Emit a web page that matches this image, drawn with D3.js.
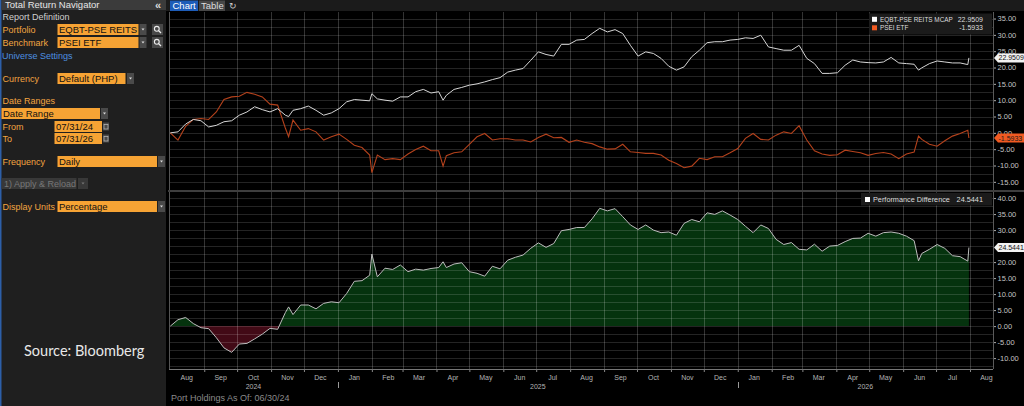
<!DOCTYPE html>
<html>
<head>
<meta charset="utf-8">
<script src="https://cdn.jsdelivr.net/npm/d3@7"></script>
<style>
  body { margin: 0; background: #000; }
  svg { display: block; font-family: "Liberation Sans", Arial, sans-serif; }
</style>
</head>
<body>
<div id="chart"></div>
<script>
// weekly closes (plus a few single-day spikes), Aug 2024 - Jul 2026
const dates = [
  "2024-08-01","2024-08-08","2024-08-15","2024-08-22","2024-08-29","2024-09-05","2024-09-12","2024-09-19","2024-09-26",
  "2024-10-03","2024-10-10","2024-10-17","2024-10-24","2024-10-31","2024-11-07","2024-11-14","2024-11-17","2024-11-21",
  "2024-11-28","2024-12-05","2024-12-12","2024-12-19","2024-12-26","2025-01-02","2025-01-09","2025-01-16","2025-01-23",
  "2025-01-30","2025-02-01","2025-02-06","2025-02-13","2025-02-20","2025-02-27","2025-03-06","2025-03-13","2025-03-20",
  "2025-03-27","2025-04-03","2025-04-07","2025-04-10","2025-04-17","2025-04-24","2025-05-01","2025-05-08","2025-05-15",
  "2025-05-22","2025-05-29","2025-06-05","2025-06-12","2025-06-19","2025-06-26","2025-07-03","2025-07-10","2025-07-17",
  "2025-07-24","2025-07-31","2025-08-07","2025-08-14","2025-08-21","2025-08-28","2025-09-04","2025-09-11","2025-09-18",
  "2025-09-25","2025-10-02","2025-10-09","2025-10-16","2025-10-23","2025-10-30","2025-11-06","2025-11-13","2025-11-20",
  "2025-11-27","2025-12-04","2025-12-11","2025-12-18","2025-12-25","2026-01-01","2026-01-08","2026-01-15","2026-01-22",
  "2026-01-29","2026-02-05","2026-02-12","2026-02-19","2026-02-26","2026-03-05","2026-03-12","2026-03-19","2026-03-26",
  "2026-04-02","2026-04-09","2026-04-16","2026-04-23","2026-04-30","2026-05-07","2026-05-14","2026-05-21","2026-05-28",
  "2026-06-04","2026-06-11","2026-06-15","2026-06-18","2026-06-25","2026-07-02","2026-07-09","2026-07-16","2026-07-23",
  "2026-07-30","2026-07-31"
];

// EQBT-PSE REITS MCAP, total return %
const portfolio = [
  0, 0.3, 2.7, 4.1, 3.7, 1.8, 2.3, 3.4, 3.7,
  5.4, 6.4, 8.0, 7.1, 6.4, 7.4, 5.4, 5.0, 6.9,
  7.4, 8.2, 6.9, 5.4, 6.1, 7.4, 9.5, 10.2, 10.0,
  9.8, 12.0, 10.4, 10.0, 9.7, 11.0, 11.0, 12.6, 13.3,
  12.2, 12.6, 10.0, 11.5, 13.3, 13.9, 14.6, 15.0, 15.6,
  16.3, 16.9, 18.6, 19.2, 19.7, 22.2, 24.8, 24.0, 23.5,
  27.1, 27.1, 28.4, 28.6, 30.4, 32.0, 30.9, 31.6, 30.4,
  26.8, 23.5, 24.8, 24.3, 22.8, 20.4, 19.2, 20.2, 23.3,
  25.3, 27.6, 27.9, 27.9, 28.4, 28.6, 29.1, 28.9, 29.9,
  26.3, 25.8, 25.3, 25.3, 26.8, 22.8, 21.2, 18.2, 18.2,
  18.4, 20.7, 22.3, 21.7, 21.5, 21.4, 21.7, 23.1, 21.4,
  21.2, 21.0, 19.2, 19.9, 21.2, 22.0, 21.7, 21.4, 21.4,
  20.9, 22.9509
];

// PSEI ETF, total return %
const benchmark = [
  0, -2.2, 2.0, 4.1, 4.4, 4.1, 6.4, 10.2, 11.0,
  11.2, 12.4, 11.8, 11.0, 8.8, 8.5, 1.5, -1.2, 3.9,
  0.8, 1.3, 0.3, -2.2, -1.2, -0.4, -2.0, -3.8, -4.5,
  -6.8, -12.2, -6.8, -8.2, -7.9, -8.2, -6.5, -5.1, -4.1,
  -5.5, -5.5, -10.2, -7.0, -6.1, -5.8, -3.5, -1.2, -0.2,
  -2.2, -1.8, -1.8, -2.2, -2.2, -2.8, -1.4, -0.4, -1.5,
  -1.4, -2.9, -2.2, -2.9, -3.3, -4.3, -5.0, -4.9, -3.5,
  -5.8, -6.0, -6.3, -6.3, -6.8, -8.4, -9.4, -10.7, -10.2,
  -7.8, -8.2, -7.3, -7.3, -6.1, -4.8, -1.7, -0.2, -2.0,
  -2.2, -0.7, 0.3, -0.2, 2.2, -2.2, -5.5, -6.5, -6.9,
  -6.7, -5.3, -5.7, -6.1, -6.9, -6.3, -6.0, -6.5, -7.9,
  -6.5, -5.9, -1.0, -2.0, -3.5, -4.1, -2.4, -1.0, -0.2,
  0.8, -1.5933
];

// Performance Difference, %
const perfDiff = [
  0, 2.0, 2.7, 0.8, -0.5, -0.8, -3.6, -6.8, -8.2,
  -5.6, -5.4, -4.0, -2.5, -0.7, -1.0, 4.2, 6.0, 3.6,
  6.6, 6.6, 5.4, 7.1, 7.6, 7.3, 10.2, 14.0, 14.2,
  15.9, 22.5, 15.4, 18.1, 17.7, 19.1, 17.0, 17.8, 17.5,
  18.0, 18.3, 20.1, 18.3, 19.4, 19.8, 17.0, 16.5, 15.6,
  18.7, 17.9, 20.6, 21.5, 22.2, 24.3, 26.0, 24.6, 25.8,
  29.8, 30.2, 30.8, 30.8, 33.5, 36.8, 36.0, 36.7, 34.2,
  31.6, 30.2, 31.6, 30.0, 29.2, 29.4, 28.4, 32.1, 33.3,
  32.6, 35.4, 34.9, 36.0, 34.7, 33.3, 31.2, 29.2, 31.6,
  30.5, 27.1, 25.5, 26.1, 24.0, 23.8, 25.6, 23.4, 25.0,
  25.2, 26.4, 27.4, 27.5, 29.0, 28.1, 29.2, 29.4, 29.0,
  28.1, 26.7, 20.4, 22.7, 24.0, 25.5, 24.3, 22.0, 21.7,
  20.3, 24.5441
];

const seriesNames = ["EQBT-PSE REITS MCAP", "PSEI ETF", "Performance Difference"];
const monthLabels = ["Aug","Sep","Oct","Nov","Dec","Jan","Feb","Mar","Apr","May","Jun","Jul",
                     "Aug","Sep","Oct","Nov","Dec","Jan","Feb","Mar","Apr","May","Jun","Jul","Aug"];
const yearLabels = ["2024", "2025", "2026"];
const topTicks = [-15, -10, -5, 0, 5, 10, 15, 20, 25, 30, 35];
const bottomTicks = [-10, -5, 0, 5, 10, 15, 20, 25, 30, 35, 40];

const parse = d3.utcParse("%Y-%m-%d");
const rows = dates.map((d, i) => ({ date: parse(d), port: portfolio[i], bench: benchmark[i], diff: perfDiff[i] }));
const last = rows[rows.length - 1];
const fmt2 = v => d3.format(".2f")(v).replace("\u2212", "-");
const fmt4 = v => d3.format(".4f")(v).replace("\u2212", "-");

const W = 1024, H = 406;
const svg = d3.select("#chart").append("svg").attr("width", W).attr("height", H);

const amber = "#f6a334", amberText = "#f2a541";

// ---------- left navigator panel ----------
const nav = svg.append("g");
nav.append("rect").attr("width", 166).attr("height", H).attr("fill", "#1f1f1f");
nav.append("rect").attr("width", 1.5).attr("height", H).attr("fill", "#2d5fa8");
nav.append("rect").attr("x", 1.5).attr("width", 164.5).attr("height", 10).attr("fill", "#3b3b3b");
nav.append("text").attr("x", 5).attr("y", 8.3).attr("font-size", 9.5).attr("fill", "#e6e6e6").text("Total Return Navigator");
nav.append("text").attr("x", 155).attr("y", 8.6).attr("font-size", 11).attr("font-weight", "bold").attr("fill", "#ddd").text("\u00ab");

function label(txt, x, y, color) {
  nav.append("text").attr("x", x).attr("y", y).attr("font-size", 9).attr("fill", color || amberText).text(txt);
}
function dropdown(x, y, fill, col) {
  nav.append("rect").attr("x", x).attr("y", y).attr("width", 7).attr("height", 11).attr("fill", fill || "#4a4a4a");
  nav.append("path").attr("d", `M${x + 2},${y + 4.5}L${x + 5},${y + 4.5}L${x + 3.5},${y + 6.5}Z`).attr("fill", col || "#ddd");
}
let clipId = 0;
function box(txt, x, y, w) {
  const id = "bx" + (clipId++);
  nav.append("clipPath").attr("id", id).append("rect").attr("x", x).attr("y", y).attr("width", w).attr("height", 11);
  nav.append("rect").attr("x", x).attr("y", y).attr("width", w).attr("height", 11).attr("fill", amber);
  nav.append("text").attr("clip-path", `url(#${id})`).attr("x", x + 1.5).attr("y", y + 9)
    .attr("font-size", 9.5).attr("fill", "#111").text(txt);
}
function lens(x, y) {
  nav.append("rect").attr("x", x).attr("y", y).attr("width", 11).attr("height", 11).attr("fill", "#484848");
  nav.append("circle").attr("cx", x + 4.8).attr("cy", y + 4.8).attr("r", 2.4).attr("fill", "none").attr("stroke", "#eee").attr("stroke-width", 1.1);
  nav.append("line").attr("x1", x + 6.6).attr("y1", y + 6.6).attr("x2", x + 9).attr("y2", y + 9).attr("stroke", "#eee").attr("stroke-width", 1.3);
}
function calendar(x, y) {
  nav.append("rect").attr("x", x).attr("y", y + 1.5).attr("width", 6).attr("height", 8).attr("fill", "#4a4a4a");
  nav.append("rect").attr("x", x + 1).attr("y", y + 3.5).attr("width", 4).attr("height", 4.5).attr("fill", "none").attr("stroke", "#bbb").attr("stroke-width", 0.7);
}

label("Report Definition", 2.5, 20, "#cfcfcf");
label("Portfolio", 2.5, 32.5);
box("EQBT-PSE REITS MCAP", 57.5, 24, 81);
dropdown(139.5, 24);
lens(152, 24);
label("Benchmark", 2.5, 45.5);
box("PSEI ETF", 57.5, 37, 81);
dropdown(139.5, 37);
lens(152, 37);
label("Universe Settings", 2, 58.5, "#4d8fe0");
label("Currency", 2.5, 82);
box("Default (PHP)", 57.5, 73, 68);
dropdown(127, 73);
label("Date Ranges", 2.5, 104);
box("Date Range", 1.5, 108, 98.5);
dropdown(101, 108);
label("From", 2.5, 129.5);
box("07/31/24", 54.5, 121, 47.5);
calendar(103, 121);
label("To", 2.5, 141.5);
box("07/31/26", 54.5, 133, 47.5);
calendar(103, 133);
label("Frequency", 2.5, 164.5);
box("Daily", 57.5, 156, 99.5);
dropdown(158, 156);
nav.append("rect").attr("x", 1.5).attr("y", 178).attr("width", 75).attr("height", 11).attr("fill", "#383838");
nav.append("text").attr("x", 4).attr("y", 186.8).attr("font-size", 9).attr("fill", "#777").text("1) Apply & Reload");
nav.append("rect").attr("x", 78).attr("y", 178).attr("width", 10).attr("height", 11).attr("fill", "#383838");
nav.append("path").attr("d", "M81.5,182.5L84.5,182.5L83,184.5Z").attr("fill", "#777");
label("Display Units", 2.5, 209.5);
box("Percentage", 57.5, 201, 99.5);
dropdown(158, 201);

nav.append("text").attr("x", 24).attr("y", 355.5).attr("font-family", "Lato, 'Open Sans', sans-serif")
  .attr("font-size", 14.5).attr("fill", "#e8e8e8").text("Source: Bloomberg");

// ---------- chart toolbar ----------
svg.append("rect").attr("x", 166).attr("width", W - 166).attr("height", 11).attr("fill", "#1b1b1b");
svg.append("rect").attr("x", 170).attr("y", 0.5).attr("width", 28).attr("height", 10.5).attr("fill", "#1d5cb8");
svg.append("text").attr("x", 172.5).attr("y", 8.8).attr("font-size", 9.5).attr("fill", "#fff").text("Chart");
svg.append("rect").attr("x", 199).attr("y", 0.5).attr("width", 26).attr("height", 10.5).attr("fill", "#474747");
svg.append("text").attr("x", 201).attr("y", 8.8).attr("font-size", 9.5).attr("fill", "#ddd").text("Table");
svg.append("text").attr("x", 229).attr("y", 9).attr("font-size", 9).attr("fill", "#ccc").text("\u21bb");

// ---------- scales ----------
const x0 = 170.3, xR = 993;
const x = d3.scaleUtc().domain([parse("2024-08-01"), parse("2026-08-22")]).range([x0, xR]);
const topP = { y0: 12, y1: 190 }, botP = { y0: 192, y1: 369 };
const yTop = d3.scaleLinear().domain([-17.5, 37]).range([topP.y1, topP.y0]);
const yBot = d3.scaleLinear().domain([-13.4, 41.9]).range([botP.y1, botP.y0]);
const monthEdges = d3.utcMonth.range(parse("2024-09-01"), parse("2026-08-02"));

// panel separator
svg.append("rect").attr("x", 168).attr("y", 190).attr("width", W - 168).attr("height", 2).attr("fill", "#3e3e3e");

function grid(panel, y, lo, hi) {
  const g = svg.append("g");
  g.selectAll(".h").data(d3.range(lo, hi + 0.01, 2.5)).enter().append("line")
    .attr("x1", 169).attr("x2", xR).attr("y1", d => Math.round(y(d)) + 0.5).attr("y2", d => Math.round(y(d)) + 0.5)
    .attr("stroke", "#fff").attr("stroke-opacity", 0.14);
  g.selectAll(".v").data(monthEdges).enter().append("line")
    .attr("x1", d => Math.round(x(d)) + 0.5).attr("x2", d => Math.round(x(d)) + 0.5)
    .attr("y1", panel.y0).attr("y2", panel.y1)
    .attr("stroke", "#fff").attr("stroke-opacity", 0.2);
  g.append("line").attr("x1", 169.5).attr("x2", 169.5).attr("y1", panel.y0).attr("y2", panel.y1).attr("stroke", "#555");
}

// ---------- bottom panel: performance difference ----------
const zeroY = yBot(0);
const defs = svg.append("defs");
defs.append("clipPath").attr("id", "above").append("rect").attr("x", 169).attr("y", botP.y0).attr("width", xR - 169).attr("height", zeroY - botP.y0);
defs.append("clipPath").attr("id", "below").append("rect").attr("x", 169).attr("y", zeroY).attr("width", xR - 169).attr("height", botP.y1 - zeroY);
const diffArea = d3.area().x(d => x(d.date)).y0(zeroY).y1(d => yBot(d.diff));
svg.append("path").datum(rows).attr("d", diffArea).attr("fill", "#05330e").attr("clip-path", "url(#above)");
svg.append("path").datum(rows).attr("d", diffArea).attr("fill", "#420a16").attr("clip-path", "url(#below)");

grid(topP, yTop, -15, 35);
grid(botP, yBot, -12.5, 40);

svg.append("path").datum(rows)
  .attr("d", d3.line().x(d => x(d.date)).y(d => yBot(d.diff)))
  .attr("fill", "none").attr("stroke", "#bdbdbd").attr("stroke-width", 1);

// ---------- top panel: total returns ----------
svg.append("path").datum(rows)
  .attr("d", d3.line().x(d => x(d.date)).y(d => yTop(d.bench)))
  .attr("fill", "none").attr("stroke", "#b5421c").attr("stroke-width", 1.1);
svg.append("path").datum(rows)
  .attr("d", d3.line().x(d => x(d.date)).y(d => yTop(d.port)))
  .attr("fill", "none").attr("stroke", "#d6d6d6").attr("stroke-width", 1);

// ---------- right axes (labels under a value tag are hidden, as in the terminal) ----------
const topTags = [yTop(last.port), yTop(last.bench)], botTags = [yBot(last.diff)];
function rightAxis(y, ticks, panel, tags) {
  const shown = ticks.filter(t => tags.every(ty => Math.abs(y(t) - ty) > 4));
  const g = svg.append("g").attr("transform", `translate(${xR},0)`)
    .call(d3.axisRight(y).tickValues(shown).tickFormat(fmt2).tickSize(3).tickPadding(1.5));
  g.select(".domain").remove();
  g.append("line").attr("x1", 0.5).attr("x2", 0.5).attr("y1", panel.y0).attr("y2", panel.y1).attr("stroke", "#5a5a5a");
  g.selectAll(".tick line").attr("stroke", "#aaa");
  g.selectAll(".tick text").attr("fill", "#c4c4c4").attr("font-size", 7.5).attr("font-family", "'Liberation Sans', Arial, sans-serif");
}
rightAxis(yTop, topTicks, topP, topTags);
rightAxis(yBot, bottomTicks, botP, botTags);

function tag(yPos, txt, fill, color) {
  svg.append("path").attr("d", `M${xR + 1},${yPos}L${xR + 5},${yPos - 4.5}L${W},${yPos - 4.5}L${W},${yPos + 4.5}L${xR + 5},${yPos + 4.5}Z`).attr("fill", fill);
  svg.append("text").attr("x", xR + 5.5).attr("y", yPos + 2.6).attr("font-size", 7).attr("fill", color).text(txt);
}
tag(topTags[0], fmt4(last.port), "#f2f2f2", "#111");
tag(topTags[1], fmt4(last.bench), "#f05a22", "#1a1a1a");
tag(botTags[0], fmt4(last.diff), "#f2f2f2", "#111");

// ---------- legends ----------
const lg = svg.append("g");
lg.append("rect").attr("x", 869).attr("y", 13.5).attr("width", 123).attr("height", 21).attr("fill", "#1b1b1b");
[[seriesNames[0], last.port, "#fff", 21.8], [seriesNames[1], last.bench, "#f05a22", 30.3]].forEach(([name, v, c, yy]) => {
  lg.append("rect").attr("x", 872).attr("y", yy - 5).attr("width", 5).attr("height", 5).attr("fill", c);
  lg.append("text").attr("x", 880).attr("y", yy).attr("font-size", 6.4).attr("fill", "#ddd").text(name);
  lg.append("text").attr("x", 983).attr("y", yy).attr("font-size", 7).attr("text-anchor", "end").attr("fill", "#ddd").text(fmt4(v));
});
lg.append("rect").attr("x", 861).attr("y", 193).attr("width", 131).attr("height", 12.5).attr("fill", "#1b1b1b");
lg.append("rect").attr("x", 865).attr("y", 197).attr("width", 5).attr("height", 5).attr("fill", "#fff");
lg.append("text").attr("x", 873).attr("y", 202.3).attr("font-size", 7.3).attr("fill", "#ddd").text(seriesNames[2]);
lg.append("text").attr("x", 983).attr("y", 202.3).attr("font-size", 7.3).attr("text-anchor", "end").attr("fill", "#ddd").text(fmt4(last.diff));

// ---------- x axis ----------
const xa = svg.append("g").attr("transform", `translate(0,${botP.y1})`)
  .call(d3.axisBottom(x).tickValues(monthEdges).tickFormat("").tickSize(3));
xa.select(".domain").remove();
xa.selectAll(".tick line").attr("stroke", "#888");
svg.append("line").attr("x1", 169).attr("x2", xR).attr("y1", botP.y1 + 0.5).attr("y2", botP.y1 + 0.5).attr("stroke", "#777");

const monthMids = monthLabels.map((m, i) => d3.utcDay.offset(d3.utcMonth.offset(parse("2024-08-01"), i), 15));
svg.selectAll(".mlab").data(monthLabels).enter().append("text")
  .attr("x", (d, i) => x(monthMids[i])).attr("y", 379.5).attr("text-anchor", "middle")
  .attr("font-size", 7).attr("fill", "#b4b4b4").text(d => d);

const yearStarts = [parse("2025-01-01"), parse("2026-01-01")];
const yearBounds = [169, x(yearStarts[0]), x(yearStarts[1]), xR];
svg.selectAll(".ylab").data(yearLabels).enter().append("text")
  .attr("x", (d, i) => (yearBounds[i] + yearBounds[i + 1]) / 2).attr("y", 388.5).attr("text-anchor", "middle")
  .attr("font-size", 7).attr("fill", "#b4b4b4").text(d => d);
svg.selectAll(".ysep").data(yearStarts).enter().append("line")
  .attr("x1", d => Math.round(x(d)) + 0.5).attr("x2", d => Math.round(x(d)) + 0.5)
  .attr("y1", 382).attr("y2", 388).attr("stroke", "#999");

svg.append("text").attr("x", 171).attr("y", 401).attr("font-size", 9).attr("fill", "#8a8a8a").text("Port Holdings As Of: 06/30/24");
</script>
</body>
</html>
